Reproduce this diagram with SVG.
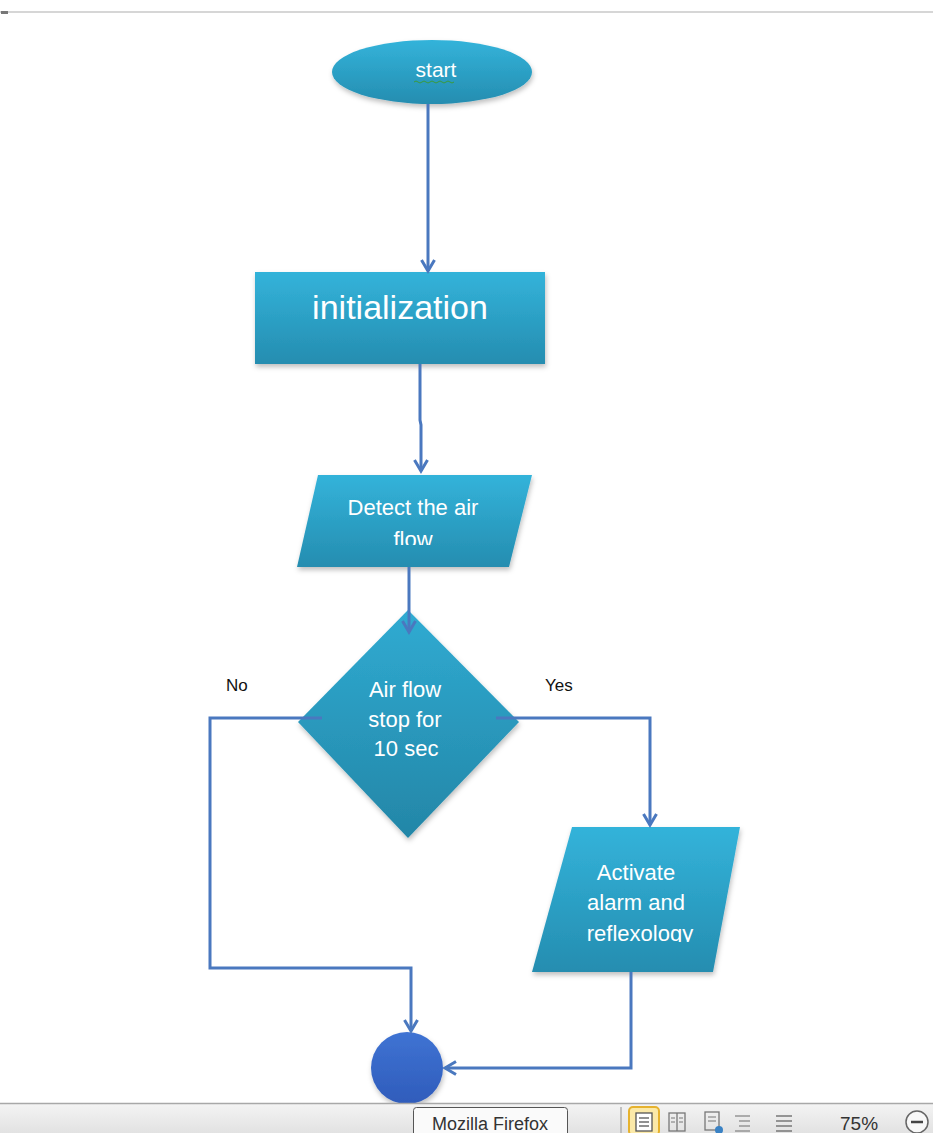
<svg xmlns="http://www.w3.org/2000/svg" width="933" height="1133" viewBox="0 0 933 1133">
<style>
.lbl{font-family:"Liberation Sans",Arial,sans-serif;fill:#ffffff;text-anchor:middle}
.t22{font-size:22px}
.edge{fill:none;stroke:#4a78bf;stroke-width:3}
.yn{font-family:"Liberation Sans",Arial,sans-serif;font-size:17px;fill:#111}
.bar{font-family:"Liberation Sans",Arial,sans-serif;fill:#333}
</style>
<defs>
<linearGradient id="g" x1="0" y1="0" x2="0" y2="1">
<stop offset="0" stop-color="#33b3da"/>
<stop offset="1" stop-color="#258db0"/>
</linearGradient>
<linearGradient id="gd" x1="0" y1="0" x2="0" y2="1">
<stop offset="0" stop-color="#30abd2"/>
<stop offset="1" stop-color="#2386a7"/>
</linearGradient>
<linearGradient id="gc" x1="0" y1="0" x2="0" y2="1">
<stop offset="0" stop-color="#3f73d3"/>
<stop offset="1" stop-color="#2f5cbb"/>
</linearGradient>
<linearGradient id="gb" x1="0" y1="0" x2="0" y2="1">
<stop offset="0" stop-color="#f4f4f4"/>
<stop offset="1" stop-color="#e2e2e2"/>
</linearGradient>
<filter id="sh" x="-10%" y="-10%" width="125%" height="130%">
<feDropShadow dx="1" dy="3" stdDeviation="2.5" flood-color="#000" flood-opacity="0.25"/>
</filter>
<marker id="arr" markerUnits="userSpaceOnUse" markerWidth="16" markerHeight="16" refX="12" refY="8" orient="auto">
<path d="M1,1.5 L12,8 L1,14.5" fill="none" stroke="#4a78bf" stroke-width="3"/>
</marker>
<clipPath id="c1"><rect x="290" y="470" width="250" height="75"/></clipPath>
<clipPath id="c2"><rect x="520" y="820" width="230" height="122"/></clipPath>
</defs>
<rect width="933" height="1133" fill="#ffffff"/>
<line x1="0" y1="12" x2="933" y2="12" stroke="#c9c9c9" stroke-width="1.5"/>
<rect x="1" y="11" width="7" height="3" fill="#777"/>

<g id="start">
<ellipse cx="432" cy="72" rx="100" ry="32" fill="url(#g)" filter="url(#sh)"/>
<text class="lbl" x="436" y="77" font-size="21">start</text>
<path d="M414,82 q2,-2 4,0 t4,0 t4,0 t4,0 t4,0 t4,0 t4,0 t4,0 t4,0 t4,0" fill="none" stroke="#3b9a3b" stroke-width="1"/>
</g>
<g id="init">
<rect x="255" y="272" width="290" height="92" fill="url(#g)" filter="url(#sh)"/>
<text class="lbl" x="400" y="319" font-size="34">initialization</text>
</g>
<g id="detect">
<polygon points="318,475 532,475 509,567 297,567" fill="url(#g)" filter="url(#sh)"/>
<g clip-path="url(#c1)">
<text class="lbl t22" x="413" y="515">Detect the air</text>
<text class="lbl t22" x="413" y="547">flow</text>
</g>
</g>
<g id="decision">
<polygon points="408,610 519,722 408,838 298,722" fill="url(#gd)" filter="url(#sh)"/>
<text class="lbl t22" x="405" y="697">Air flow</text>
<text class="lbl t22" x="405" y="727">stop for</text>
<text class="lbl t22" x="406" y="756">10 sec</text>
</g>
<g id="activate">
<polygon points="572,827 740,827 713,972 532,972" fill="url(#g)" filter="url(#sh)"/>
<g clip-path="url(#c2)">
<text class="lbl t22" x="636" y="880">Activate</text>
<text class="lbl t22" x="636" y="910">alarm and</text>
<text class="lbl t22" x="640" y="941">reflexology</text>
</g>
</g>
<g id="end">
<circle cx="407" cy="1068" r="36" fill="url(#gc)" filter="url(#sh)"/>
</g>

<g id="connectors">
<line class="edge" x1="428" y1="104" x2="428" y2="271" marker-end="url(#arr)"/>
<polyline class="edge" points="420,364 420,420 421,425 421,471" marker-end="url(#arr)"/>
<line class="edge" x1="409" y1="567" x2="409" y2="632" marker-end="url(#arr)"/>
<polyline class="edge" points="322,718 210,718 210,968 411,968 411,1031" marker-end="url(#arr)"/>
<polyline class="edge" points="496,718 650,718 650,825" marker-end="url(#arr)"/>
<polyline class="edge" points="631,972 631,1068 445,1068" marker-end="url(#arr)"/>
</g>
<text class="yn" x="226" y="691">No</text>
<text class="yn" x="545" y="691">Yes</text>

<g id="statusbar">
<rect x="0" y="1103" width="933" height="30" fill="url(#gb)"/>
<line x1="0" y1="1103.5" x2="933" y2="1103.5" stroke="#a8a8a8" stroke-width="1.5"/>
<rect x="413.5" y="1107.5" width="154" height="32" rx="3" fill="#fafafa" stroke="#555" stroke-width="1"/>
<text class="bar" x="490" y="1130" font-size="18" text-anchor="middle">Mozilla Firefox</text>
<line x1="621" y1="1107" x2="621" y2="1133" stroke="#b0b0b0" stroke-width="1.5"/>
<rect x="629" y="1107" width="30" height="28" rx="4" fill="#fbe9a8" stroke="#e6b22e" stroke-width="2"/>
<rect x="636" y="1113" width="16" height="18" fill="#fff" stroke="#555" stroke-width="1.3"/>
<line x1="639" y1="1118" x2="649" y2="1118" stroke="#555" stroke-width="1.3"/>
<line x1="639" y1="1122" x2="649" y2="1122" stroke="#555" stroke-width="1.3"/>
<line x1="639" y1="1126" x2="649" y2="1126" stroke="#555" stroke-width="1.3"/>
<rect x="669" y="1113" width="16" height="18" fill="none" stroke="#777" stroke-width="1.3"/>
<line x1="677" y1="1113" x2="677" y2="1131" stroke="#777" stroke-width="1.3"/>
<line x1="671" y1="1118" x2="675" y2="1118" stroke="#777"/>
<line x1="679" y1="1118" x2="683" y2="1118" stroke="#777"/>
<line x1="671" y1="1122" x2="675" y2="1122" stroke="#777"/>
<line x1="679" y1="1122" x2="683" y2="1122" stroke="#777"/>
<rect x="705" y="1112" width="14" height="18" fill="none" stroke="#777" stroke-width="1.3"/>
<line x1="708" y1="1117" x2="716" y2="1117" stroke="#777"/>
<line x1="708" y1="1121" x2="716" y2="1121" stroke="#777"/>
<circle cx="719" cy="1130" r="4" fill="#3a82c4"/>
<line x1="735" y1="1116" x2="750" y2="1116" stroke="#888" stroke-width="1.3"/>
<line x1="739" y1="1121" x2="750" y2="1121" stroke="#888" stroke-width="1.3"/>
<line x1="739" y1="1126" x2="750" y2="1126" stroke="#888" stroke-width="1.3"/>
<line x1="735" y1="1131" x2="750" y2="1131" stroke="#888" stroke-width="1.3"/>
<line x1="776" y1="1116" x2="792" y2="1116" stroke="#777" stroke-width="1.5"/>
<line x1="776" y1="1121" x2="792" y2="1121" stroke="#777" stroke-width="1.5"/>
<line x1="776" y1="1126" x2="792" y2="1126" stroke="#777" stroke-width="1.5"/>
<line x1="776" y1="1131" x2="792" y2="1131" stroke="#777" stroke-width="1.5"/>
<text class="bar" x="840" y="1130" font-size="19">75%</text>
<circle cx="917" cy="1122" r="11" fill="#f8f8f8" stroke="#666" stroke-width="1.5"/>
<line x1="911" y1="1122" x2="923" y2="1122" stroke="#444" stroke-width="2.5"/>
</g>
</svg>
